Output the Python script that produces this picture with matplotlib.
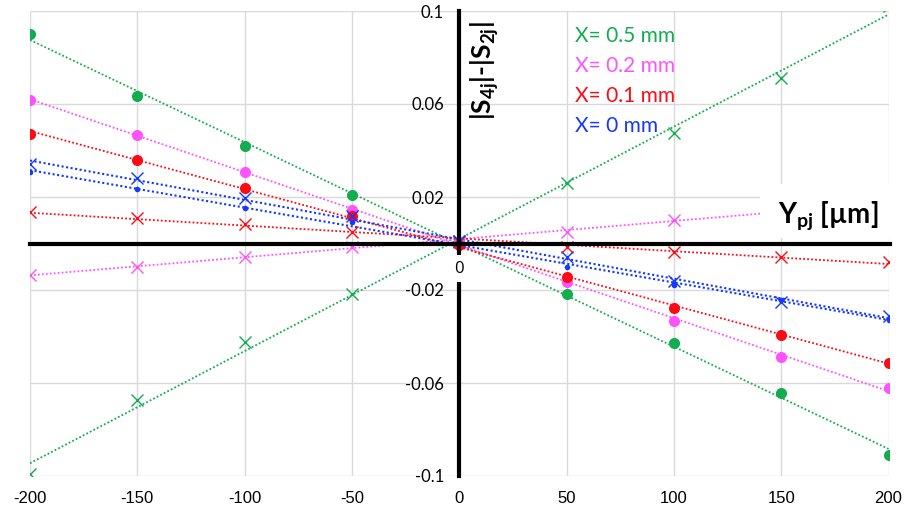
import numpy as np
import matplotlib
matplotlib.use("Agg")
import matplotlib.pyplot as plt
from matplotlib.patches import Rectangle

# Lateral position Y_pj (µm)
y_pos = [-200, -150, -100, -50, 0, 50, 100, 150, 200]

# |S4j| - |S2j| for each offset X; "dot" and "cross" are the two measured sets
green_dot = [0.0900, 0.0633, 0.0419, 0.0207, 0.0005, -0.0217, -0.0429, -0.0644, -0.0910]
green_cross = [-0.0991, -0.0673, -0.0422, -0.0217, 0.0010, 0.0262, 0.0477, 0.0712, 0.1020]
magenta_dot = [0.0619, 0.0468, 0.0306, 0.0145, 0.0005, -0.0167, -0.0332, -0.0487, -0.0622]
magenta_cross = [-0.0135, -0.0100, -0.0057, -0.0014, 0.0010, 0.0051, 0.0101, 0.0138, 0.0176]
red_dot = [0.0472, 0.0360, 0.0237, 0.0120, -0.0005, -0.0143, -0.0279, -0.0394, -0.0514]
red_cross = [0.0135, 0.0108, 0.0084, 0.0051, 0.0005, -0.0014, -0.0035, -0.0058, -0.0078]
blue_cross = [0.0341, 0.0280, 0.0194, 0.0118, 0.0010, -0.0059, -0.0160, -0.0250, -0.0311]
blue_dot = [0.0306, 0.0236, 0.0151, 0.0094, 0.0005, -0.0102, -0.0178, -0.0243, -0.0329]

legend_labels = ["X= 0.5 mm", "X= 0.2 mm", "X= 0.1 mm", "X= 0 mm"]

GREEN = "#12AD4F"
MAGENTA = "#FF52FF"
RED = "#FF0A14"
BLUE = "#1438FF"

y_ticks = [-0.1, -0.06, -0.02, 0.02, 0.06, 0.1]
y_tick_labels = ["-0.1", "-0.06", "-0.02", "0.02", "0.06", "0.1"]
x_ticks = [-200, -150, -100, -50, 0, 50, 100, 150, 200]
x_tick_labels = ["-200", "-150", "-100", "-50", "0", "50", "100", "150", "200"]

plt.rcParams["font.family"] = ["Lato", "DejaVu Sans"]
plt.rcParams["mathtext.fontset"] = "custom"
plt.rcParams["mathtext.rm"] = "Lato"
plt.rcParams["mathtext.bf"] = "Lato:bold"
plt.rcParams["mathtext.it"] = "Lato:italic"

fig = plt.figure(figsize=(9.11, 5.12), dpi=100)
ax = fig.add_axes([30 / 911, 1 - 476 / 512, 858.5 / 911, 465 / 512])
ax.set_xlim(-200, 200)
ax.set_ylim(-0.1, 0.1)

ax.set_xticks(x_ticks)
ax.set_xticklabels(x_tick_labels)
ax.set_yticks(y_ticks)
ax.set_yticklabels(y_tick_labels)
ax.grid(True, color="#D9D9D9", linewidth=1.0, zorder=0)
ax.set_axisbelow(True)
ax.tick_params(axis="both", length=0, labelsize=12)
ax.tick_params(axis="x", pad=11)
ax.tick_params(axis="y", pad=11)
for lbl in ax.get_xticklabels():
    lbl.set_fontfamily(["Liberation Sans", "DejaVu Sans"])
for lbl in ax.get_yticklabels():
    lbl.set_fontfamily(["Open Sans", "DejaVu Sans"])

for side in ("top", "right", "bottom"):
    ax.spines[side].set_visible(False)
ax.spines["left"].set_position(("data", 0))
ax.spines["left"].set_linewidth(3)
ax.spines["left"].set_color("black")
ax.spines["left"].set_zorder(5)
ax.axhline(0, color="black", linewidth=3, zorder=6, xmin=0, xmax=1.002, clip_on=False)

x = np.array(y_pos, dtype=float)
xx = np.array([-200.0, 200.0])
dotted = (0, (1.0, 1.2))

series = [
    (green_dot, GREEN, "o", 8, 1.3),
    (green_cross, GREEN, "x", 8, 1.3),
    (magenta_dot, MAGENTA, "o", 8, 1.3),
    (magenta_cross, MAGENTA, "x", 8, 1.3),
    (red_dot, RED, "o", 8, 1.3),
    (red_cross, RED, "x", 8, 1.3),
    (blue_cross, BLUE, "x", 8, 1.5),
    (blue_dot, BLUE, "o", 4, 1.5),
]
for vals, col, mk, ms, lw in series:
    v = np.array(vals)
    slope, icpt = np.polyfit(x, v, 1)
    ax.plot(xx, slope * xx + icpt, color=col, linewidth=lw, linestyle=dotted, zorder=3)
    if mk == "o":
        ax.plot(x, v, linestyle="none", marker="o", markersize=ms, color=col,
                markeredgewidth=0, zorder=4)
    else:
        ax.plot(x, v, linestyle="none", marker="x", markersize=ms, color=col,
                markeredgewidth=1.0, zorder=4)

# origin label with white background interrupting the vertical axis
ax.text(0, -0.0108, "0", ha="center", va="center", fontsize=12,
        fontfamily=["Open Sans", "DejaVu Sans"], zorder=7,
        bbox=dict(facecolor="white", edgecolor="none", boxstyle="square,pad=0.35"))

# axis titles
ax.text(12.0, 0.0745, r"$\mathbf{|S_{4j}|}$-$\mathbf{|S_{2j}|}$", rotation=90,
        ha="center", va="center", fontsize=19, fontweight="bold", zorder=7)
ax.add_patch(Rectangle((0.85, 0.512), 0.16, 0.117, transform=ax.transAxes,
                       facecolor="white", edgecolor="none", zorder=4.5, clip_on=False))
ax.text(0.93, 0.56, r"$\mathbf{Y_{pj}}$ [µm]", transform=ax.transAxes,
        ha="center", va="center", fontsize=20, fontweight="bold", zorder=7)

# colour-coded legend text
for i, (lab, col) in enumerate(zip(legend_labels, [GREEN, MAGENTA, RED, BLUE])):
    fig.text(575 / 911, 1 - (36.5 + 30 * i) / 512, lab, color=col, fontsize=15,
             ha="left", va="center")

fig.savefig("out.png", dpi=100)
